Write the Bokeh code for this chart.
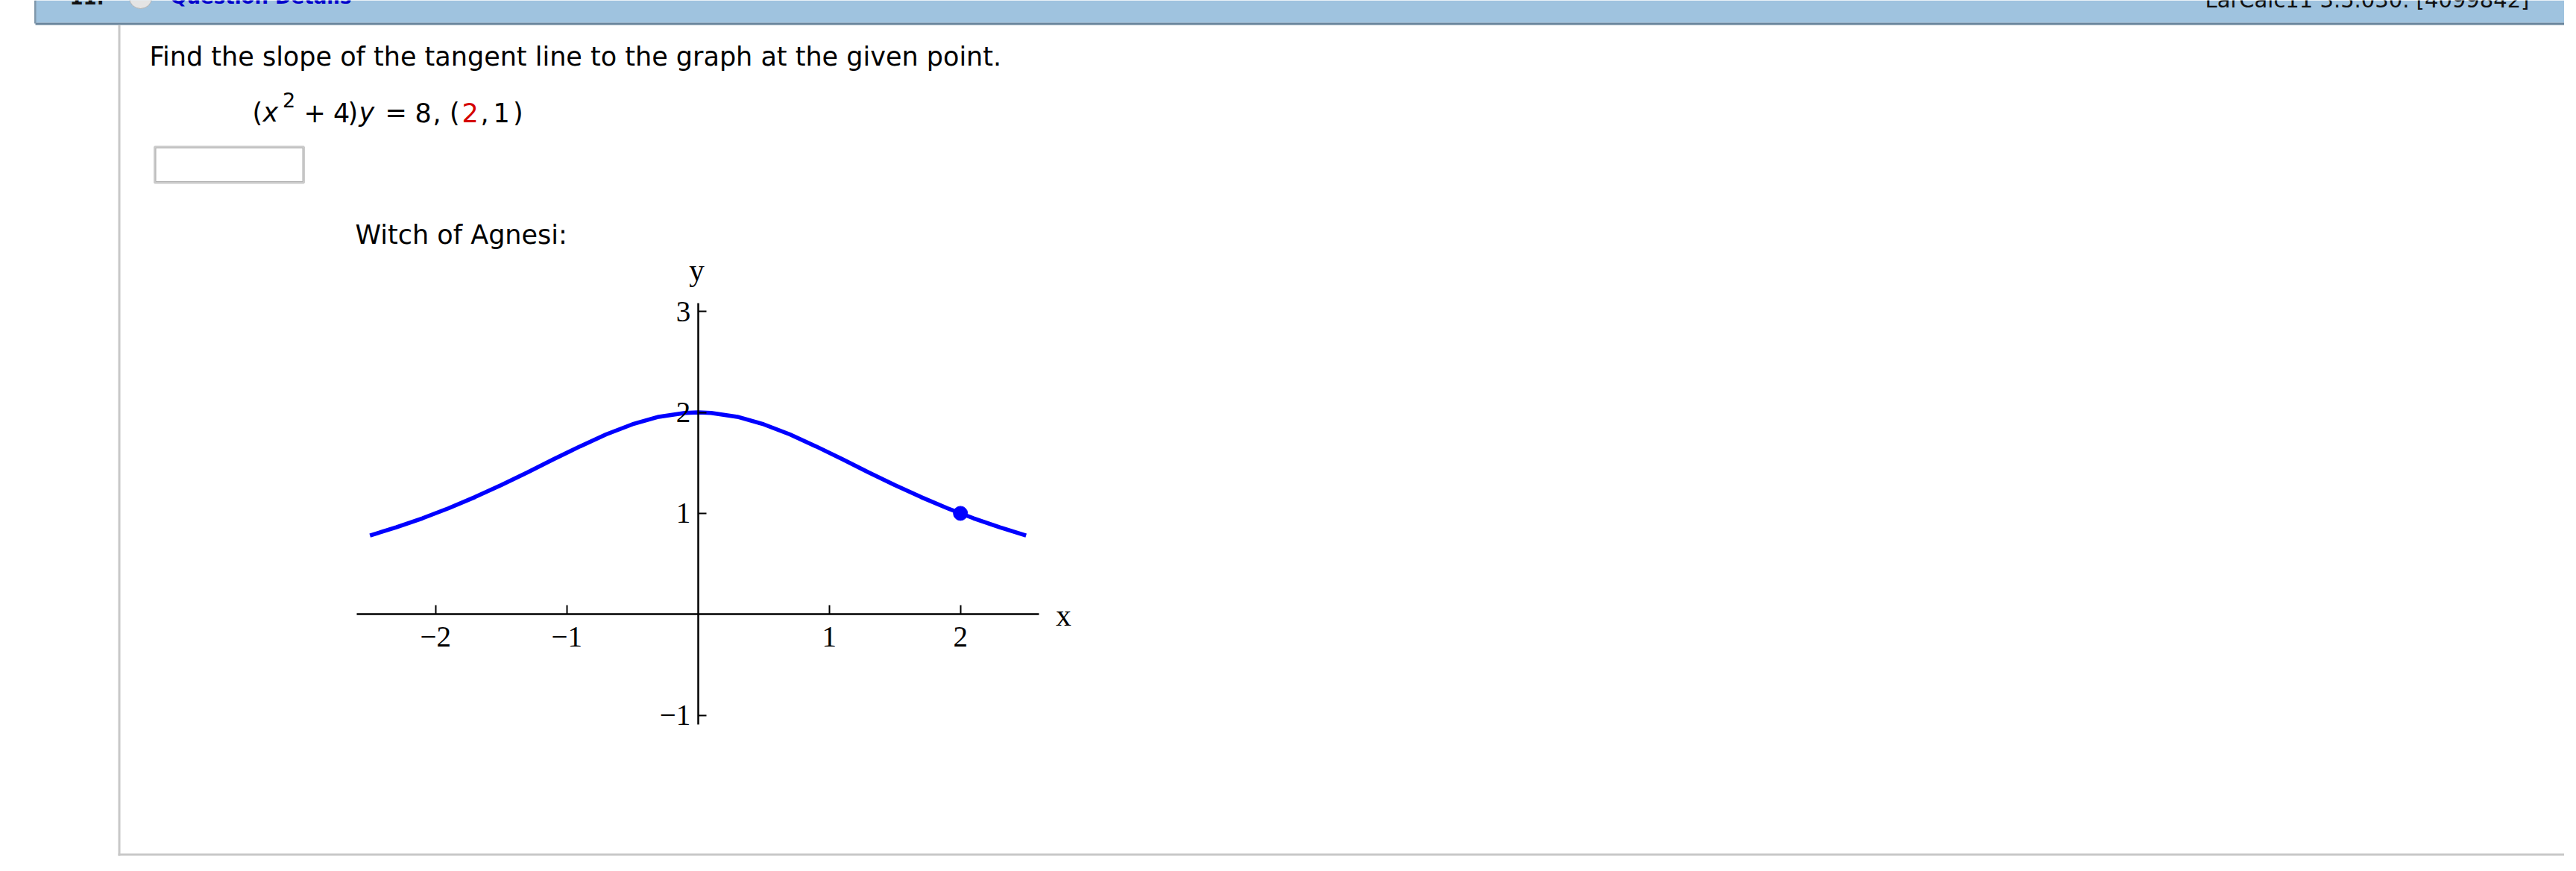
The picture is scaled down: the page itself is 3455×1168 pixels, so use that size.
from bokeh.plotting import figure
from bokeh.models import Range1d, LinearAxis, FixedTicker
from bokeh.core.properties import value
from bokeh.embed import file_html
from bokeh.resources import INLINE

# ---------------- data ----------------
curve_x = [-2.5, -2.3, -2.1, -1.9, -1.7, -1.5, -1.3, -1.1, -0.9, -0.7, -0.5, -0.3, -0.1, 0.0,
           0.1, 0.3, 0.5, 0.7, 0.9, 1.1, 1.3, 1.5, 1.7, 1.9, 2.1, 2.3, 2.5]
curve_y = [0.781, 0.861, 0.951, 1.051, 1.161, 1.280, 1.406, 1.536, 1.663, 1.782, 1.882, 1.956, 1.995, 2.000,
           1.995, 1.956, 1.882, 1.782, 1.663, 1.536, 1.406, 1.280, 1.161, 1.051, 0.951, 0.861, 0.781]
point_x = [2]
point_y = [1]
x_ticks = [-2, -1, 1, 2]
x_tick_labels = ["\u22122", "\u22121", "1", "2"]
y_ticks = [-1, 1, 2, 3]
y_tick_labels = ["\u22121", "1", "2", "3"]
x_bounds = (-2.6, 2.6)
y_bounds = (-1.09, 3.08)

question = "Find the slope of the tangent line to the graph at the given point."
caption = "Witch of Agnesi:"
header_number = "11."
header_title = "Question Details"
header_source = "LarCalc11 3.5.030. [4099842]"
# equation pieces: text, left x (image px), baseline y, size (px), style, color
eq_text = ["(", "x", "2", "+", "4", ")", "y", "=", "8", ",", "(", "2", ",", "1", ")"]
eq_x = [338, 352, 378.5, 407, 446.5, 466, 481, 516, 556, 580, 602.5, 619, 644, 661, 687.5]
eq_y = [161, 161, 142, 161, 161, 161, 161, 161, 161, 161, 161, 161, 161, 161, 161]
eq_size = [35, 35, 27] + [35] * 12
eq_style = ["normal", "italic", "normal", "normal", "normal", "normal", "italic"] + ["normal"] * 8
eq_color = ["black"] * 11 + ["#d40000"] + ["black"] * 3

# ---------------- layout (image pixel coordinates) ----------------
W, H = 3439, 1152
X0, UX = 935.7, 176.0      # image x of data x=0, px per unit
Y0, UY = 823.3, 135.4      # image y of data y=0, px per unit
SHIFT = 0.31               # text baseline correction (fraction of font size)


def base(y, size):
    return y - SHIFT * size


p = figure(width=W, height=H, x_range=Range1d(0, W), y_range=Range1d(H, 0),
           min_border=0, toolbar_location=None, output_backend="svg",
           x_axis_type=None, y_axis_type=None, outline_line_color=None,
           background_fill_color="white", border_fill_color="white")
p.extra_x_ranges = {"cx": Range1d((0 - X0) / UX, (W - X0) / UX)}
p.extra_y_ranges = {"cy": Range1d((Y0 - H) / UY, (Y0 - 0) / UY)}

# header bar
p.quad(left=[47], right=[W], top=[0], bottom=[30], fill_color="#9fc3df", line_color=None)
p.quad(left=[47], right=[W], top=[30], bottom=[33], fill_color="#68849b", line_color=None)
p.quad(left=[45.5], right=[48], top=[0], bottom=[31], fill_color="#7f97ab", line_color=None)
p.ellipse(x=[188], y=[-3], width=[30], height=[28], fill_color="#e4e4e4", line_color="#b5b5b5", line_width=1)
p.text(x=[93], y=[base(4, 26)], text=[header_number], text_font=value("DejaVu Sans"), text_font_size="26px",
       text_font_style="bold", text_color="#111111", text_baseline="alphabetic")
p.text(x=[228], y=[base(4, 26)], text=[header_title], text_font=value("DejaVu Sans"), text_font_size="26px",
       text_font_style="bold", text_color="#0000cc", text_baseline="alphabetic")
p.text(x=[2957], y=[base(8, 29)], text=[header_source], text_font=value("DejaVu Sans"), text_font_size="29px",
       text_color="#111111", text_baseline="alphabetic")

# content frame lines
p.quad(left=[158], right=[161], top=[33], bottom=[1147], fill_color="#c8c8c8", line_color=None)
p.quad(left=[158], right=[W], top=[1144], bottom=[1147], fill_color="#c8c8c8", line_color=None)

# question text
p.text(x=[200], y=[base(86, 35)], text=[question], text_font=value("DejaVu Sans"), text_font_size="35px",
       text_baseline="alphabetic", text_align="left", text_color="black")
p.text(x=eq_x, y=[base(y, s) for y, s in zip(eq_y, eq_size)], text=eq_text, text_font=value("DejaVu Sans"),
       text_font_size=[f"{s}px" for s in eq_size],
       text_font_style=eq_style, text_color=eq_color, text_baseline="alphabetic", text_align="left")

# answer box
p.quad(left=[207], right=[407], top=[196.5], bottom=[244.5], fill_color="white",
       line_color="#cbcbcb", line_width=3)
p.quad(left=[208.5], right=[405.5], top=[198], bottom=[243], fill_color=None,
       line_color="#b0b0b0", line_width=1)

p.text(x=[476], y=[base(325, 35)], text=[caption], text_font=value("DejaVu Sans"), text_font_size="35px",
       text_baseline="alphabetic", text_align="left", text_color="black")

# ---------------- chart ----------------
common = dict(x_range_name="cx", y_range_name="cy", fixed_location=0,
              axis_line_color="black", axis_line_width=2.5,
              major_tick_line_color="black", major_tick_line_width=2,
              minor_tick_in=0, minor_tick_out=0, major_tick_out=0,
              major_label_text_font="Liberation Serif", major_label_text_font_size="39px",
              major_label_text_color="black")
xax = LinearAxis(bounds=x_bounds, ticker=FixedTicker(ticks=x_ticks, minor_ticks=[]),
                 major_label_overrides=dict(zip(x_ticks, x_tick_labels)),
                 major_tick_in=12, major_label_standoff=17, **common)
p.add_layout(xax, "below")
yax = LinearAxis(bounds=y_bounds, ticker=FixedTicker(ticks=y_ticks, minor_ticks=[]),
                 major_label_overrides=dict(zip(y_ticks, y_tick_labels)),
                 major_tick_in=11, major_label_standoff=10, **common)
p.add_layout(yax, "left")

p.line(curve_x, curve_y, x_range_name="cx", y_range_name="cy", line_color="#0000ff", line_width=5.5)
p.scatter(point_x, point_y, x_range_name="cx", y_range_name="cy", size=19,
          fill_color="#0000ff", line_color="#0000ff")

# axis names (image coordinates)
p.text(x=[1426], y=[base(837, 41)], text=["x"],
       text_font=value("Liberation Serif"), text_font_size="41px", text_align="center",
       text_baseline="alphabetic", text_color="black")
p.text(x=[934], y=[base(374, 41)], text=["y"],
       text_font=value("Liberation Serif"), text_font_size="41px", text_align="center",
       text_baseline="alphabetic", text_color="black")

open("out.html", "w").write(file_html(p, INLINE))
